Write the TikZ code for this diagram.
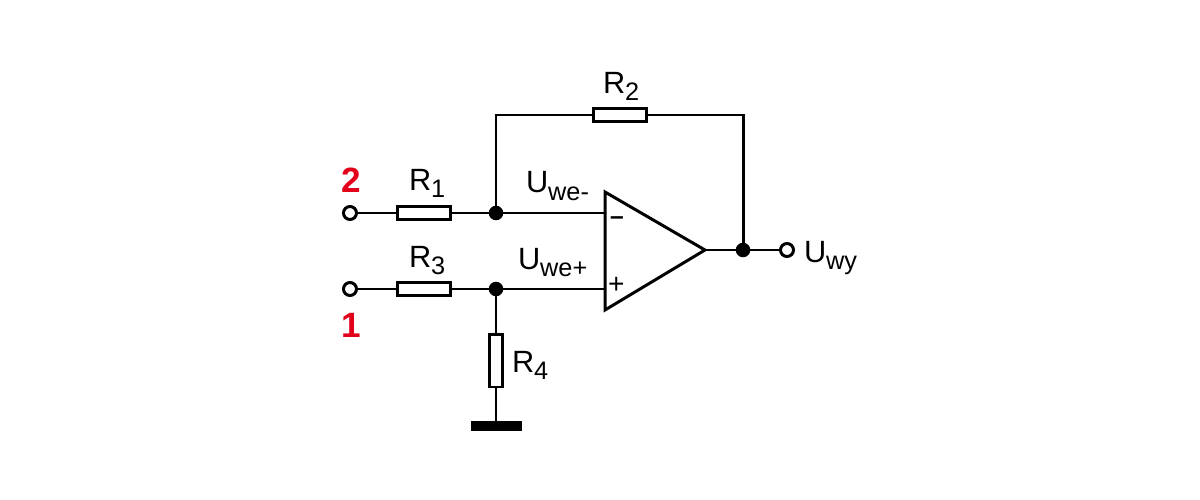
\documentclass[tikz,border=0pt]{standalone}
\usepackage{fontspec}
\setmainfont{Liberation Sans}
\definecolor{markred}{RGB}{226,0,26}
\newcommand{\lowidx}[1]{\raisebox{-4pt}{\fontsize{14.4}{15}\selectfont #1}}
\tikzset{
    res/.style={draw,rectangle,fill=white,inner sep=0,outer sep=0,minimum width=1.06cm,minimum height=0.27cm},
    vres/.style={res,minimum width=0.27cm,minimum height=1.06cm},
    dot/.style={draw,circle,fill=black,inner sep=0,outer sep=0,minimum size=0.23cm},
    term/.style={draw,circle,fill=white,inner sep=0,outer sep=0,minimum size=0.26cm},
    lbl/.style={anchor=base west,inner sep=0,outer sep=0,font=\fontsize{17.5}{20}\selectfont},
    redlbl/.style={lbl,font=\fontsize{20}{20}\selectfont\bfseries,text=markred}
}
\begin{document}
\begin{tikzpicture}[x=0.02cm,y=-0.02cm,line width=1.7pt]
    \useasboundingbox (0,0) rectangle (1200,500);
    % resistors
    \node[res] (r1) at (424,213) {};
    \node[res] (r2) at (620,115) {};
    \node[res] (r3) at (424,289) {};
    \node[vres] (r4) at (496,360.5) {};
    % terminals and junctions
    \node[term] (in2) at (350,213) {};
    \node[term] (in1) at (350,289) {};
    \node[term] (out) at (787,250) {};
    \node[dot] (jminus) at (496,213) {};
    \node[dot] (jplus) at (496,289) {};
    \node[dot] (jout) at (743,250) {};
    % amplifier
    \coordinate (atop) at (605,192);
    \coordinate (abot) at (605,310);
    \coordinate (aout) at (705,250);
    \coordinate (aminus) at (605,213);
    \coordinate (aplus) at (605,289);
    \coordinate (cleft) at (496,115);
    \coordinate (cright) at (743,115);
    \coordinate (gnd) at (496,421);
    \draw[miter limit=10] (atop) -- (aout) -- (abot) -- cycle;
    % wires
    \draw (in2) -- (r1) -- (jminus) -- (aminus);
    \draw (in1) -- (r3) -- (jplus) -- (aplus);
    \draw (jminus) -- (cleft) -- (r2) -- (cright) -- (jout);
    \draw (aout) -- (jout) -- (out);
    \draw (jplus) -- (r4) -- (gnd);
    \fill (471,421) rectangle (522,431);
    % labels
    \node[lbl] (lr1) at (409,190) {R\lowidx{1}};
    \node[lbl] (lr2) at (603,93) {R\lowidx{2}};
    \node[lbl] (lr3) at (409,267) {R\lowidx{3}};
    \node[lbl] (lr4) at (512,372) {R\lowidx{4}};
    \node[lbl] (lminus) at (526,193) {U\lowidx{we-}};
    \node[lbl] (lplus) at (518,269) {U\lowidx{we+}};
    \node[lbl] (lout) at (804,262) {U\lowidx{wy}};
    \node[redlbl] (n2) at (341,193) {2};
    \node[redlbl] (n1) at (341,337) {1};
    \node[lbl,font=\fontsize{14}{14}\selectfont\bfseries] (sminus) at (610,224) {–};
    \node[lbl,font=\fontsize{16}{16}\selectfont] (splus) at (608,293) {+};
\end{tikzpicture}
\end{document}
